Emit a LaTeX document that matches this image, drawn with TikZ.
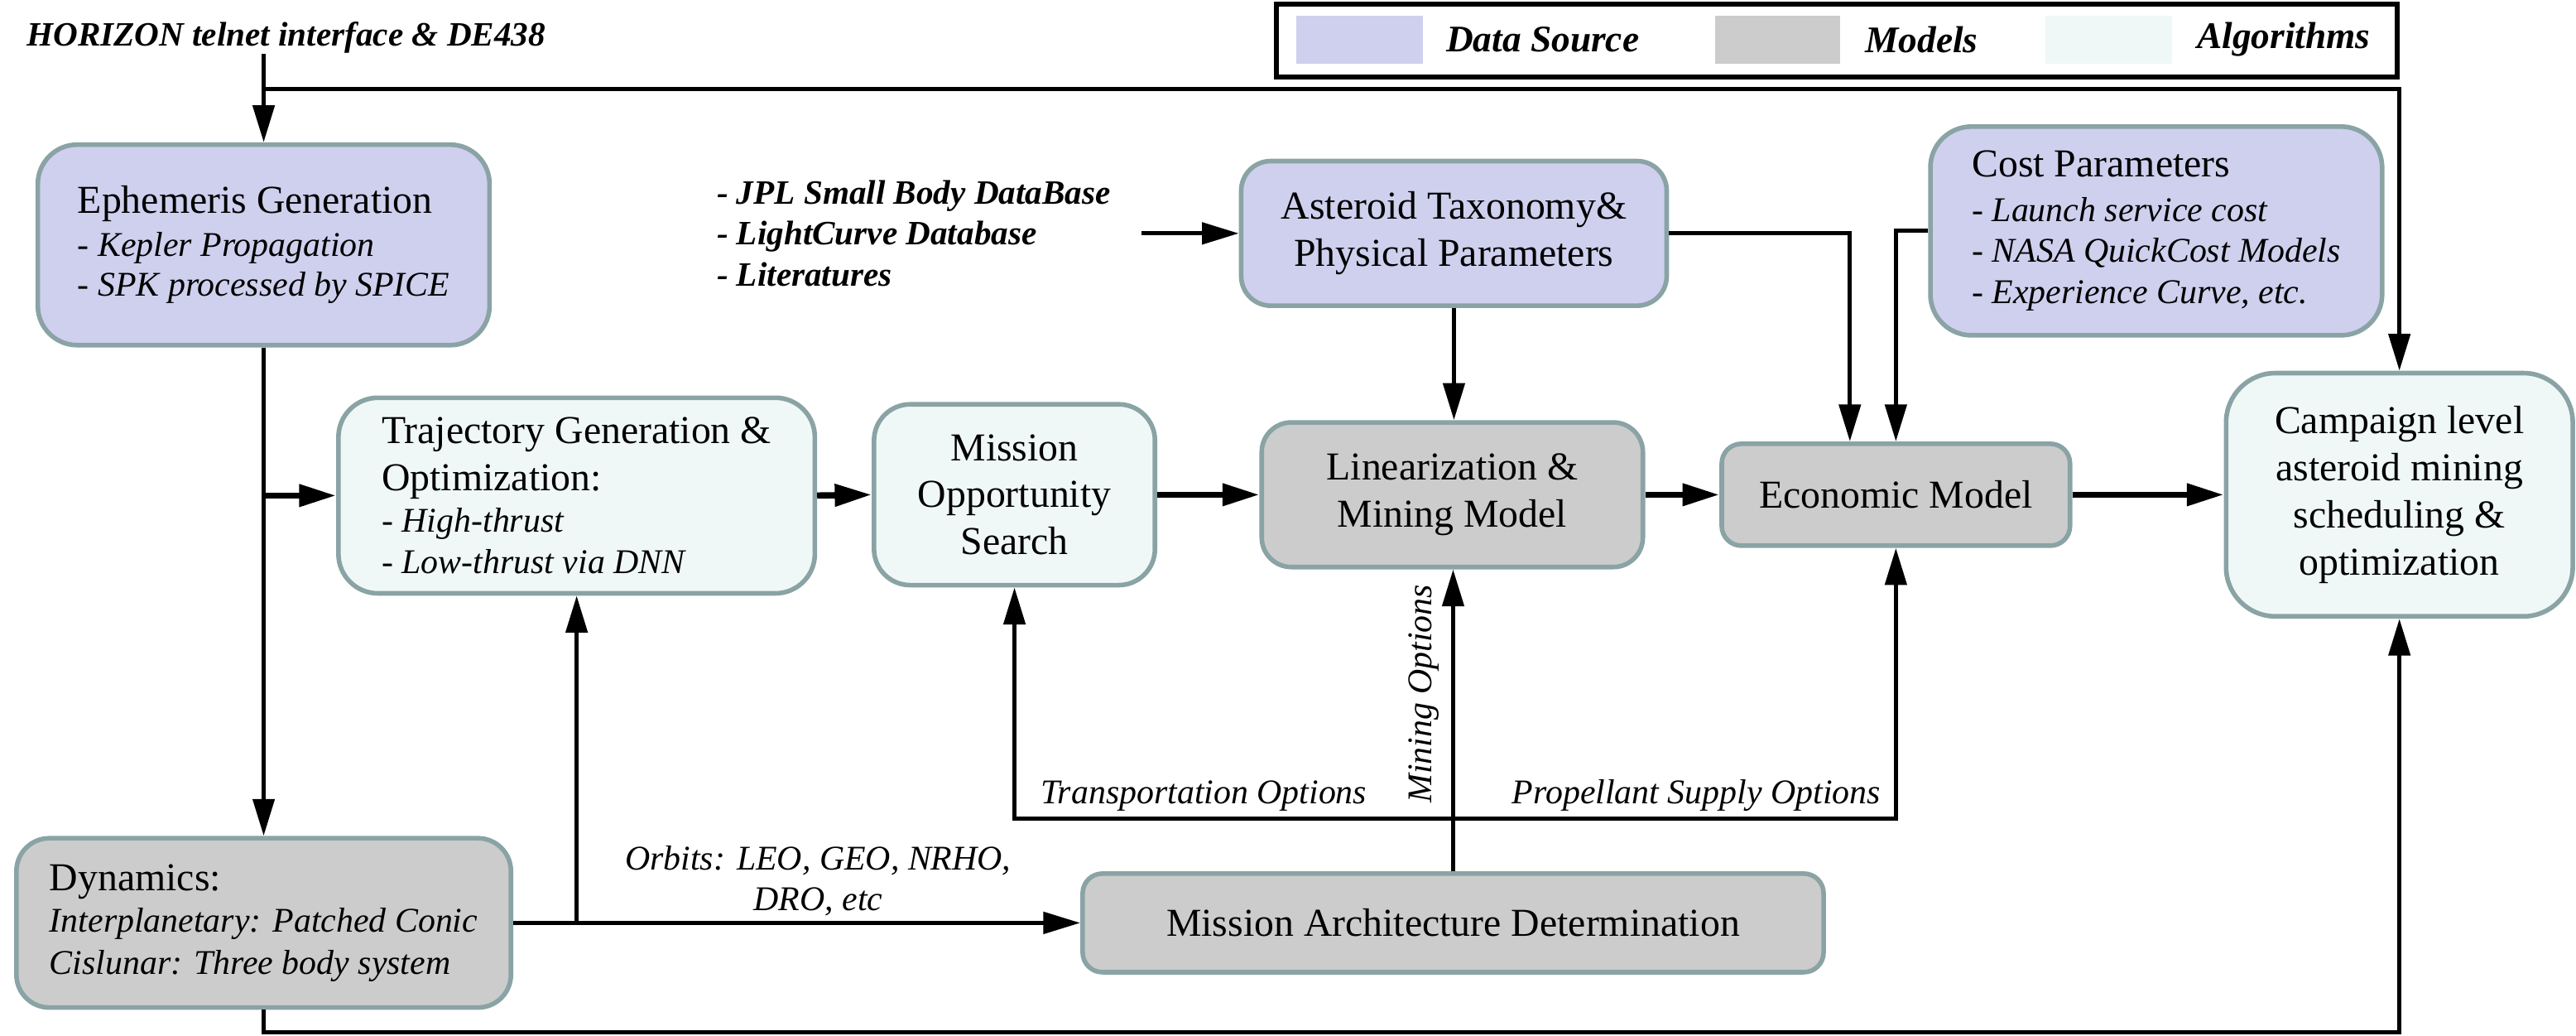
\documentclass[tikz,border=0pt]{standalone}
\usepackage{fontspec}
\setmainfont{Liberation Serif}
\usetikzlibrary{arrows.meta}
\definecolor{datasrc}{HTML}{CFCFEE}
\definecolor{models}{HTML}{CCCCCC}
\definecolor{algos}{HTML}{F0F8F7}
\definecolor{rim}{HTML}{8AA3A5}
\newcommand{\itemline}[1]{{\fontsize{12}{14}\selectfont\itshape #1}}

\begin{document}
\begin{tikzpicture}[x=0.2mm, y=-0.2mm,
    box/.style={draw=rim, line width=1.6pt, inner sep=0pt, align=center, font=\fontsize{13.7}{16.3}\selectfont},
    datanode/.style={box, fill=datasrc},
    modelnode/.style={box, fill=models},
    algonode/.style={box, fill=algos},
    conn/.style={line width=1.5pt, -{Triangle[length=4.5mm, width=2.6mm]}},
    mainconn/.style={conn, line width=2.2pt},
    note/.style={font=\fontsize{12}{14.2}\selectfont\itshape, inner sep=0pt},
    src/.style={font=\fontsize{11.8}{14.2}\selectfont\bfseries\itshape, inner sep=0pt},
    key/.style={font=\fontsize{13}{15}\selectfont\bfseries\itshape, inner sep=0pt, anchor=west}]
    \useasboundingbox (0,0) rectangle (1568,630.3);

    \draw [line width=1.8pt] (777,2.5) rectangle (1459,47);
    \fill [datasrc] (789,9.6) rectangle (866,38.6);
    \fill [models] (1044,9.6) rectangle (1120,38.6);
    \fill [algos] (1245,9.6) rectangle (1322,38.6);
    \node[key] (keydata) at (880,24) {Data Source};
    \node[key] (keymodel) at (1135,24) {Models};
    \node[key] (keyalgo) at (1337,24) {Algorithms};

    \node[src, anchor=base west] (horizon) at (16,28) {HORIZON telnet interface \& DE438};
    \node[src, anchor=west, align=left] (jpl) at (436,142) {- JPL Small Body DataBase\\- LightCurve Database\\- Literatures};
    \coordinate (jplend) at (695,142);

    \node[datanode, minimum width=55mm, minimum height=24.4mm, rounded corners=4.8mm, align=left] (eph) at (160.5,149)
      {Ephemeris Generation\\[-1.5pt] \itemline{- Kepler Propagation}\\[-2.5pt] \itemline{- SPK processed by SPICE}};
    \node[datanode, minimum width=51.8mm, minimum height=17.6mm, rounded corners=3.6mm] (ast) at (885,142)
      {Asteroid Taxonomy\&\\Physical Parameters};
    \node[datanode, minimum width=55mm, minimum height=25.4mm, rounded corners=5mm, align=left] (cost) at (1312.5,140.5)
      {Cost Parameters\\[-1pt] \itemline{- Launch service cost}\\[-2pt] \itemline{- NASA QuickCost Models}\\[-2pt] \itemline{- Experience Curve, etc.}};
    \node[algonode, minimum width=58mm, minimum height=23.8mm, rounded corners=4.8mm, align=left] (traj) at (351,301.5)
      {Trajectory Generation \&\\Optimization:\\[-1.7pt] \itemline{- High-thrust}\\[-2pt] \itemline{- Low-thrust via DNN}};
    \node[algonode, minimum width=34.2mm, minimum height=22mm, rounded corners=4.4mm] (mos) at (617.5,301)
      {Mission\\Opportunity\\Search};
    \node[modelnode, minimum width=46.4mm, minimum height=17.6mm, rounded corners=3.6mm] (lin) at (884,301)
      {Linearization \&\\Mining Model};
    \node[modelnode, minimum width=42.4mm, minimum height=12.4mm, rounded corners=2.4mm] (eco) at (1154,301)
      {Economic Model};
    \node[algonode, minimum width=42.2mm, minimum height=29.6mm, rounded corners=6mm] (camp) at (1460.5,301)
      {Campaign level\\asteroid mining\\scheduling \&\\optimization};
    \node[modelnode, minimum width=60.2mm, minimum height=20.6mm, rounded corners=4mm, align=left] (dyn) at (160.5,561.5)
      {Dynamics:\\[-1.8pt] \itemline{Interplanetary: Patched Conic}\\[-1.8pt] \itemline{Cislunar: Three body system}};
    \node[modelnode, minimum width=90.2mm, minimum height=12mm, rounded corners=2.4mm] (arch) at (884.5,561.5)
      {Mission Architecture Determination};

    \node[note, align=center] (orbits) at (498,536) {Orbits: LEO, GEO, NRHO,\\DRO, etc};
    \node[note, anchor=base west] (transp) at (633,489) {Transportation Options};
    \node[note, anchor=base east] (propel) at (1145,489) {Propellant Supply Options};
    \node[note, rotate=90, anchor=south west] (mining) at (876,489) {Mining Options};

    \draw[conn] (horizon.south -| eph.north) -- (eph.north);
    \draw[conn] (eph.north |- 0,54) -| (camp.north);
    \draw[conn] (eph.south) -- (dyn.north);
    \draw[mainconn] (eph.south |- traj.west) -- (traj.west);
    \draw[mainconn] (traj.east) -- (mos.west);
    \draw[mainconn] (mos.east) -- (lin.west);
    \draw[mainconn] (lin.east) -- (eco.west);
    \draw[mainconn] (eco.east) -- (camp.west);
    \draw[conn] (jplend) -- (ast.west);
    \draw[conn] (ast.south) -- (ast.south |- lin.north);
    \draw[conn] (ast.east) -| ([xshift=-5.6mm]eco.north);
    \draw[conn] (cost.west) -| (eco.north);
    \draw[conn] (dyn.east) -- (arch.west);
    \draw[conn] (traj.south |- dyn.east) -- (traj.south);
    \draw[conn] (arch.north) -- (arch.north |- lin.south);
    \coordinate (optjoin) at (arch.north |- 0,498);
    \draw[conn] (optjoin) -| (mos.south);
    \draw[conn] (optjoin) -| (eco.south);
    \draw[conn] (dyn.south) -- (dyn.south |- 0,628) -| (camp.south);
  \end{tikzpicture}
\end{document}
